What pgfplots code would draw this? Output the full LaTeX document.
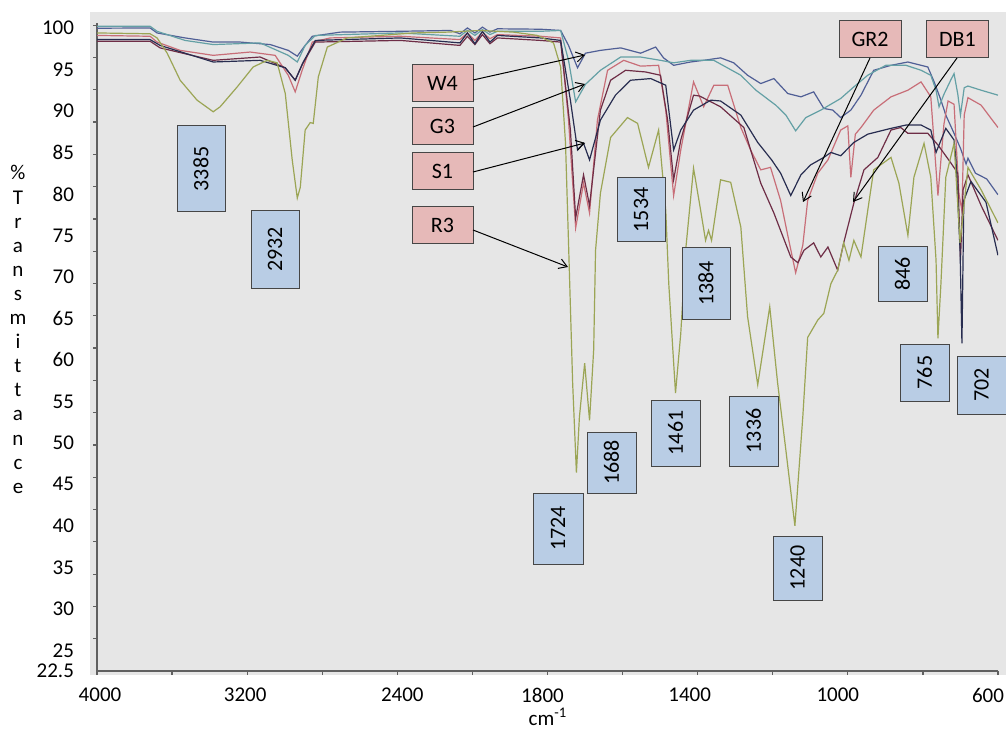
\documentclass[border=0pt]{standalone}
\usepackage{pgfplots}
\pgfplotsset{compat=1.18}
\usepackage{fontspec}
\setmainfont{Carlito}
\usetikzlibrary{arrows.meta}
\definecolor{plotbg}{RGB}{230,230,230}
\definecolor{pinkbox}{RGB}{230,185,184}
\definecolor{bluebox}{RGB}{185,205,229}
\definecolor{boxborder}{RGB}{70,70,70}
\definecolor{cW}{RGB}{80,95,150}
\definecolor{cG}{RGB}{100,160,165}
\definecolor{cGR}{RGB}{200,110,120}
\definecolor{cDB}{RGB}{110,45,70}
\definecolor{cS}{RGB}{40,45,80}
\definecolor{cR}{RGB}{155,165,85}
\begin{document}
\begin{tikzpicture}[font=\fontsize{10.5}{12.6}\selectfont]
\useasboundingbox (-48.5pt,-29pt) rectangle (454.5pt,335.5pt);
\fill[plotbg] (-3.5pt,-2pt) rectangle (454.5pt,329.5pt);
\begin{axis}[
  at={(0pt,0pt)}, anchor=south west,
  scale only axis, width=450.5pt, height=324pt,
  x coord trafo/.code={\pgfmathparse{#1>=3200 ? (4000-#1)/800 : (#1>=2400 ? 1+(3200-#1)/800 : (#1>=1800 ? 2+(2400-#1)/600 : 3+(1800-#1)/400))}},
  xmin=4000, xmax=600, ymin=22.5, ymax=100.6,
  axis x line*=bottom, axis y line*=left,
  axis line style={draw=gray!75!black, line width=0.8pt, -},
  tick align=outside,
  xtick={4000,3200,2400,1800,1400,1000,600},
  xticklabels={\hspace*{3pt}4000,3200\hspace*{2pt},\hspace*{5pt}2400,1800\hspace*{5pt},1400\hspace*{8pt},1000\hspace*{10pt},600\hspace*{10pt}},
  minor xtick={3600,2800,2100,1600,1200,800},
  ytick={22.5,25,30,35,40,45,50,55,60,65,70,75,80,85,90,95,100},
  yticklabels={22.5,25,30,35,40,45,50,55,60,65,70,75,80,85,90,95,100},
  minor ytick={26.39,30.28,34.17,38.07,41.96,45.85,49.74,53.63,57.52,61.42,65.31,69.20,73.09,76.98,80.88,84.77,88.66,92.55,96.44,100.33},
  xtick pos=bottom, ytick pos=left,
  major tick length=2pt, minor tick length=2pt,
  tick style={draw=gray!75!black, line width=0.6pt},
  major y tick style={draw=none},
  xticklabel style={font=\fontsize{10.5}{12.6}\selectfont, yshift=-3pt},
  yticklabel style={font=\fontsize{10.5}{12.6}\selectfont, anchor=east, xshift=-6pt},
  every axis plot/.append style={line width=0.6pt, no marks},
]
% W4
\addplot[cW] table {
4000 99.97
3717 100.0
3680 99.4
3531 98.8
3381 98.3
3237 98.3
3077 98.0
2981 97.3
2933 96.6
2901 97.6
2853 99.0
2704 99.5
2388 99.6
2188 99.7
2150 99.3
2120 100.0
2090 99.4
2060 100.1
2030 99.5
2000 99.9
1828 99.85
1765 99.7
1744 97.9
1720 95.2
1699 96.96
1659 97.3
1605 97.6
1552 96.96
1512 97.7
1491 96.4
1464 95.5
1419 95.9
1384 96.1
1339 96.4
1304 95.8
1267 94.3
1232 93.3
1197 93.9
1160 92.1
1125 91.7
1091 92.3
1064 90.3
1040 90.1
1019 89.2
992 90.1
965 91.9
931 94.9
885 95.5
840 95.9
805 95.5
787 95.3
770 93.5
752 91.3
739 89.5
717 87.3
700 85.5
685 83.6
680 84.3
660 82.5
630 81.8
600 79.9
};
% G3
\addplot[cG] table {
4000 100.2
3717 100.2
3680 99.6
3531 98.5
3381 98.0
3131 98.2
2981 96.7
2933 95.9
2891 97.9
2837 99.1
2388 99.4
2150 99.0
2120 99.7
2090 99.1
2060 99.8
2030 99.2
2000 99.6
1828 99.6
1765 99.7
1744 96.1
1725 91.1
1699 93.2
1659 94.9
1605 96.5
1552 96.5
1499 96.1
1464 95.8
1419 96.1
1357 96.1
1285 94.3
1245 92.5
1192 90.7
1165 89.5
1139 87.6
1112 89.2
1072 90.1
1019 91.5
984 92.9
947 94.3
899 95.5
845 95.5
805 94.9
779 94.3
765 92.5
757 90.5
744 92.0
725 93.8
717 94.5
707 92.0
700 89.5
690 92.8
680 93.0
645 92.5
600 91.9
};
% GR2
\addplot[cGR] table {
4000 99.1
3717 99.0
3680 98.3
3557 97.3
3381 96.7
3184 97.1
3051 96.7
2981 94.3
2944 92.3
2907 94.9
2853 98.3
2757 98.8
2388 99.0
2150 98.6
2120 99.4
2090 98.5
2060 99.5
2030 98.7
2000 99.2
1828 99.0
1765 98.8
1744 88.9
1725 75.9
1704 81.3
1688 77.7
1667 88.9
1640 94.9
1597 96.1
1552 95.4
1504 95.5
1485 90.1
1464 79.8
1445 85.3
1411 93.5
1384 90.5
1357 93.1
1320 93.1
1285 88.0
1259 85.3
1232 82.9
1206 83.2
1179 79.2
1160 75.0
1139 70.5
1120 73.8
1107 79.2
1080 82.5
1053 84.1
1019 87.7
1000 88.2
992 82.0
980 87.2
965 88.0
931 90.1
885 91.7
840 92.5
805 93.5
779 91.7
760 79.8
744 88.4
733 91.2
717 90.8
704 80.0
696 78.0
690 89.5
680 91.6
645 90.7
600 88.0
};
% DB1
\addplot[cDB] table {
4000 98.4
3717 98.4
3664 97.6
3381 96.1
3131 96.5
2997 95.2
2944 93.7
2907 95.6
2837 98.3
2388 98.5
2150 97.9
2120 99.0
2090 98.0
2060 99.2
2030 98.1
2000 98.8
1828 98.5
1765 98.3
1739 87.7
1725 77.1
1704 82.3
1688 78.6
1659 90.1
1632 93.7
1592 94.9
1539 94.7
1499 94.3
1480 88.9
1464 81.7
1445 86.5
1411 91.9
1395 91.8
1339 90.5
1277 88.0
1232 81.3
1197 77.7
1152 72.4
1133 71.7
1117 73.2
1091 74.1
1072 72.4
1053 73.6
1027 70.8
1011 74.1
984 78.9
957 82.9
920 84.4
885 87.7
859 88.0
840 87.3
787 87.3
760 85.9
725 83.7
707 82.5
700 72.0
693 80.5
680 82.3
645 78.6
600 74.4
};
% S1
\addplot[cS] table {
4000 98.6
3717 98.6
3664 97.9
3381 95.9
3131 96.1
2997 95.2
2944 93.7
2901 95.9
2837 98.5
2388 98.8
2150 98.2
2120 99.4
2090 98.1
2060 99.6
2030 98.3
2000 99.1
1828 98.8
1765 98.5
1739 91.3
1720 85.3
1704 86.1
1688 84.1
1659 88.9
1619 91.9
1579 93.7
1525 93.9
1485 93.1
1464 85.3
1445 87.7
1411 90.1
1365 91.3
1339 91.2
1285 89.5
1240 86.2
1203 84.1
1179 82.5
1152 79.8
1125 82.3
1099 83.5
1064 84.4
1045 85.0
1019 84.6
984 86.2
947 87.2
885 87.9
845 88.3
805 88.3
779 87.7
765 85.0
739 87.9
717 86.5
712 84.1
701 73.2
696 62.0
691 79.2
672 81.5
632 79.0
600 72.6
};
% R3
\addplot[cR] table {
4000 99.4
3717 99.3
3680 98.8
3627 97.0
3557 93.7
3467 91.3
3381 89.9
3344 90.5
3253 92.9
3168 95.3
3093 96.1
3040 95.8
2997 92.1
2960 84.1
2933 79.5
2917 80.8
2891 87.7
2864 88.6
2848 88.5
2821 94.1
2773 97.7
2667 98.8
2491 99.1
2336 99.4
2200 99.5
2068 99.7
1936 99.5
1840 99.1
1784 98.2
1765 95.3
1752 86.1
1744 74.1
1733 57.2
1723 46.4
1715 53.1
1701 59.6
1688 52.7
1677 61.2
1672 73.2
1659 80.1
1632 86.8
1587 89.2
1560 88.5
1531 83.2
1504 87.7
1485 78.0
1477 69.2
1459 56.0
1445 63.2
1432 73.2
1411 83.1
1392 78.0
1379 74.4
1371 75.6
1363 74.4
1339 81.7
1312 81.4
1285 76.0
1267 65.2
1240 57.0
1208 66.4
1187 57.2
1165 49.1
1141 40.0
1120 53.1
1107 62.7
1080 64.8
1064 65.6
1045 69.2
1027 70.8
1011 74.1
997 72.0
984 74.4
965 72.4
947 78.0
931 82.9
885 84.4
864 81.3
840 75.0
824 82.0
797 86.1
779 82.0
765 72.0
760 62.6
752 69.2
739 82.0
717 86.1
701 74.1
680 83.2
645 80.5
600 76.5
};
\end{axis}
% axis title and label
\node at (225.5pt,-23pt) {cm\textsuperscript{-1}};
\node[align=center, font=\fontsize{10.5}{12.05}\selectfont] at (-39.5pt,170.75pt) {\%\\T\\r\\a\\n\\s\\m\\i\\t\\t\\a\\n\\c\\e};
% blue boxes
\tikzset{bb/.style={draw=boxborder, line width=0.5pt, fill=bluebox, rotate=90, inner sep=0pt, font=\fontsize{11}{13}\selectfont},
         pb/.style={draw=boxborder, line width=0.5pt, fill=pinkbox, inner sep=0pt, minimum width=30.5pt, minimum height=18.5pt, font=\fontsize{11}{13}\selectfont}}
\node[bb, minimum width=43pt, minimum height=24pt] at (52pt,251pt) {3385};
\node[bb, minimum width=38.5pt, minimum height=24pt] at (89pt,210.75pt) {2932};
\node[bb, minimum width=32pt, minimum height=24pt] at (272pt,230.5pt) {1534};
\node[bb, minimum width=35.5pt, minimum height=24pt] at (304.5pt,193.75pt) {1384};
\node[bb, minimum width=27pt, minimum height=24.5pt] at (402.75pt,198.5pt) {846};
\node[bb, minimum width=35.5pt, minimum height=25pt] at (230.5pt,71.25pt) {1724};
\node[bb, minimum width=30.5pt, minimum height=24.5pt] at (257.25pt,104.25pt) {1688};
\node[bb, minimum width=33pt, minimum height=24.5pt] at (289.25pt,119pt) {1461};
\node[bb, minimum width=35pt, minimum height=24.5pt] at (328.25pt,120pt) {1336};
\node[bb, minimum width=32pt, minimum height=24.5pt] at (350.25pt,51.5pt) {1240};
\node[bb, minimum width=28.5pt, minimum height=24.5pt] at (413.75pt,149.25pt) {765};
\node[bb, minimum width=29pt, minimum height=24.5pt] at (442.25pt,143pt) {702};
% pink boxes and arrows
\tikzset{ar/.style={line width=0.5pt, -{Straight Barb[length=4pt,width=5pt]}}}
\node[pb] at (172.75pt,293.75pt) {W4};
\node[pb] at (172.75pt,272.25pt) {G3};
\node[pb] at (172.75pt,250pt) {S1};
\node[pb] at (172.75pt,223pt) {R3};
\node[pb, minimum width=31pt] at (386.5pt,315.75pt) {GR2};
\node[pb, minimum width=31pt] at (430.25pt,315.75pt) {DB1};
\draw[ar] (188pt,295.5pt) -- (244pt,308pt);
\draw[ar] (188pt,272pt) -- (244pt,293.5pt);
\draw[ar] (188pt,249.5pt) -- (244pt,264pt);
\draw[ar] (188pt,220.5pt) -- (235.5pt,202pt);
\draw[ar] (386.5pt,306.5pt) -- (353pt,234.5pt);
\draw[ar] (430pt,306.5pt) -- (378pt,234.5pt);
\end{tikzpicture}
\end{document}
